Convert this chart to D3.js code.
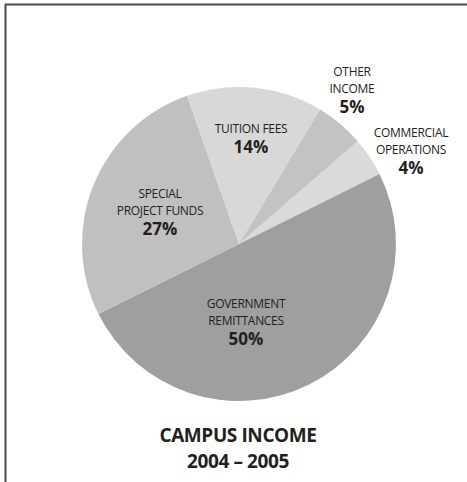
<!DOCTYPE html>
<html>
<head>
<meta charset="utf-8">
<script src="https://cdn.jsdelivr.net/npm/d3@7"></script>
<style>
  html, body { margin: 0; padding: 0; background: #fff; }
  svg { display: block; }
</style>
</head>
<body>
<svg id="chart" width="467" height="482"></svg>
<script>
// Income sources, in drawing order (clockwise from Commercial Operations)
const categories = ["COMMERCIAL OPERATIONS", "GOVERNMENT REMITTANCES", "SPECIAL PROJECT FUNDS", "TUITION FEES", "OTHER INCOME"];
const shares = [4, 50, 27, 14, 5];
const sliceColors = ["#dadada", "#9f9f9f", "#c0c0c0", "#d8d8d8", "#c3c3c3"];
const labelLines = [["COMMERCIAL", "OPERATIONS"], ["GOVERNMENT", "REMITTANCES"], ["SPECIAL", "PROJECT FUNDS"], ["TUITION FEES"], ["OTHER", "INCOME"]];
const titleLines = ["CAMPUS INCOME", "2004 – 2005"];

const svg = d3.select("#chart");
const W = 467, H = 482;
const cx = 239, cy = 244, R = 157;

// frame (top and left rules)
svg.append("path")
  .attr("d", `M5.5,${H} L5.5,4.5 L${W},4.5`)
  .attr("fill", "none")
  .attr("stroke", "#4a4a4a")
  .attr("stroke-width", 2);

// start angle chosen so the Government slice spans the tilted diameter
const startDeg = 49.1;
const start = startDeg * Math.PI / 180;
const pie = d3.pie().sort(null).value(d => d)
  .startAngle(start).endAngle(start + 2 * Math.PI);
const arcs = pie(shares);
const arc = d3.arc().innerRadius(0).outerRadius(R);

const g = svg.append("g").attr("transform", `translate(${cx},${cy})`);
g.selectAll("path.slice")
  .data(arcs)
  .join("path")
  .attr("class", "slice")
  .attr("d", arc)
  .attr("fill", (d, i) => sliceColors[i]);

// label anchors (in chart coordinates: centre x, baseline of first line)
const labelPos = [
  [411, 137],
  [246, 308],
  [160, 198],
  [251, 133],
  [352, 76]
];
const font = "'Open Sans', 'Noto Sans', sans-serif";
const labels = svg.append("g").attr("font-family", font).attr("text-anchor", "middle");
categories.forEach((c, i) => {
  const [x, y] = labelPos[i];
  const lines = labelLines[i];
  const t = labels.append("g");
  lines.forEach((ln, k) => {
    t.append("text")
      .attr("x", x).attr("y", y + k * 17)
      .attr("font-size", 12)
      .attr("fill", "#231f20")
      .attr("letter-spacing", -0.3)
      .text(ln);
  });
  t.append("text")
    .attr("x", x).attr("y", y + (lines.length - 1) * 17 + 20)
    .attr("font-size", 17)
    .attr("font-weight", "bold")
    .attr("fill", "#231f20")
    .text(shares[i] + "%");
});

// title
const title = svg.append("g").attr("font-family", font).attr("text-anchor", "middle")
  .attr("font-weight", "bold").attr("fill", "#231f20");
titleLines.forEach((ln, k) => {
  title.append("text")
    .attr("x", 238).attr("y", 442 + k * 26)
    .attr("font-size", 19)
    .attr("letter-spacing", -0.4)
    .text(ln);
});
</script>
</body>
</html>
